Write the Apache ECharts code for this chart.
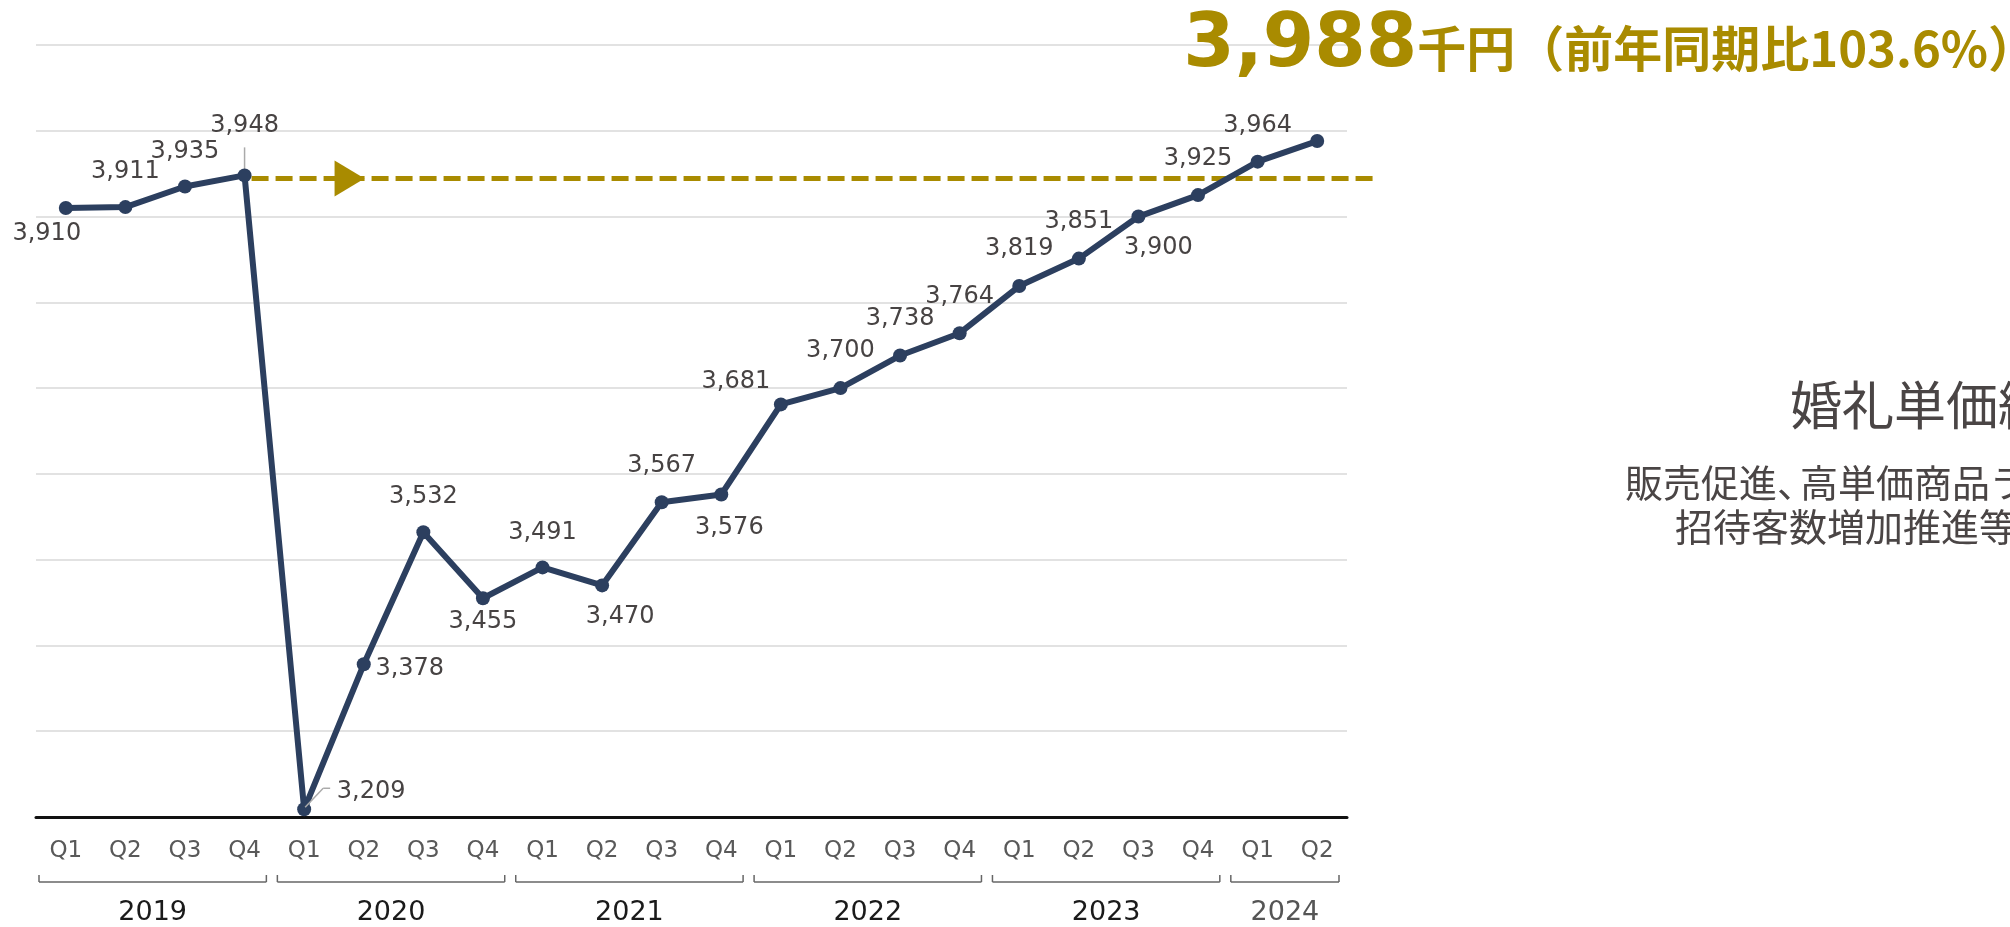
<!DOCTYPE html>
<html><head><meta charset="utf-8">
<script src="https://cdn.jsdelivr.net/npm/echarts@6/dist/echarts.min.js"></script>
<style>html,body{margin:0;padding:0;background:#fff;overflow:hidden}#c{width:2010px;height:927px}</style>
</head><body><div id="c"></div>
<script>
// ---- data ----
const quarters = ['Q1','Q2','Q3','Q4','Q1','Q2','Q3','Q4','Q1','Q2','Q3','Q4','Q1','Q2','Q3','Q4','Q1','Q2','Q3','Q4','Q1','Q2'];
const years = ['2019','2020','2021','2022','2023','2024'];
const quartersPerYear = [4,4,4,4,4,2];
const unitPrice = [3910,3911,3935,3948,3209,3378,3532,3455,3491,3470,3567,3576,3681,3700,3738,3764,3819,3851,3900,3925,3964,3988];
const yMin = 3200, yMax = 4100, yInterval = 100;
const referenceIndex = 3;          // 2019 Q4
const referenceValue = 3948;
const headlineValue = '3,988';
const headlineUnit = '千円（前年同期比103.6%）';
const sideTitle = '婚礼単価維持・向上';
const sideLine1a = '販売促進、';
const sideLine1b = '高単価商品ラインナップ強化';
const sideLine2 = '招待客数増加推進等により';

// ---- label placement (style) ----
const labelOffsets = [[-19,26],[0,-35],[0,-35],[0,-50],[67,-18],[46,4],[0,-35],[0,23],[0,-35],[18,31],[0,-36],[8,33],[-45,-23],[0,-37],[0,-37],[0,-36],[0,-37],[0,-37],[20,31],[0,-36],[0,-36],null];

const NAVY = '#2c3f5f', GOLD = '#a98b00', LABEL = '#474343';
const chart = echarts.init(document.getElementById('c'), null, {renderer:'canvas'});

const seriesData = unitPrice.map((v,i) => {
  const off = labelOffsets[i];
  return off ? {value:v, label:{show:true, position:'inside', offset:off}} : {value:v, label:{show:false}};
});

chart.setOption({
  animation:false,
  backgroundColor:'#fff',
  grid:{left:36, right:663, top:45, bottom:110, containLabel:false},
  xAxis:{
    type:'category', data:quarters, boundaryGap:true,
    axisLine:{show:true, lineStyle:{color:'#111', width:3}},
    axisTick:{show:false},
    axisLabel:{color:'#595959', fontSize:23, fontFamily:'DejaVu Sans', margin:23, interval:0},
    splitLine:{show:false}
  },
  yAxis:{
    type:'value', min:yMin, max:yMax, interval:yInterval,
    axisLine:{show:false}, axisTick:{show:false}, axisLabel:{show:false},
    splitLine:{show:true, lineStyle:{color:'#d9d9d9', width:1.5}}
  },
  series:[{
    type:'line', data:seriesData, z:5,
    symbol:'circle', symbolSize:14,
    lineStyle:{color:NAVY, width:6},
    itemStyle:{color:NAVY},
    label:{color:LABEL, fontSize:24, fontFamily:'DejaVu Sans', formatter:p => p.value.toLocaleString('en-US')}
  }]
});

// ---- overlay graphics positioned through the chart's own scales ----
const px = (i, v) => chart.convertToPixel({gridIndex:0}, [i, v]);
const band = px(2, yMin)[0] - px(1, yMin)[0];
const cx = i => px(1, yMin)[0] + (i - 1) * band;
const axisY = px(1, yMin)[1];
const gridRight = cx(quarters.length - 1) + band / 2;
const g = [];

// year brackets
let start = 0;
const bStyle = {stroke:'#666', lineWidth:1.5};
years.forEach((yr, k) => {
  const end = start + quartersPerYear[k] - 1;
  const xL = cx(start) - band/2 + 3;
  const xR = cx(end) + band/2 - 8;
  const by = axisY + 65;
  g.push({type:'line', shape:{x1:xL, y1:by, x2:xR, y2:by}, style:bStyle});
  g.push({type:'line', shape:{x1:xL, y1:by-7, x2:xL, y2:by}, style:bStyle});
  g.push({type:'line', shape:{x1:xR, y1:by-7, x2:xR, y2:by}, style:bStyle});
  g.push({type:'text', x:(xL+xR)/2, y:axisY + 96, style:{text:yr, fill: k === years.length-1 ? '#555' : '#1a1a1a',
    font:'27px "DejaVu Sans"', align:'center', verticalAlign:'middle'}});
  start = end + 1;
});

// dashed reference line and arrow
const ref = px(referenceIndex, referenceValue);
const refPt = px(referenceIndex, unitPrice[referenceIndex]);
g.push({type:'line', z:1, shape:{x1:ref[0]+7, y1:ref[1]+3, x2:gridRight+26, y2:ref[1]+3},
  style:{stroke:GOLD, lineWidth:5, lineDash:[17,7]}});
g.push({type:'polygon', z:1, shape:{points:[[ref[0]+90, ref[1]-15],[ref[0]+120, ref[1]+3],[ref[0]+90, ref[1]+21]]},
  style:{fill:GOLD}});

// leader lines
const leader = {stroke:'#aaa', lineWidth:1.5};
g.push({type:'line', z:3, shape:{x1:refPt[0], y1:refPt[1]-2, x2:refPt[0], y2:refPt[1]-28}, style:leader});
const low = px(4, unitPrice[4]);
g.push({type:'line', z:6, shape:{x1:low[0]+1, y1:low[1]-2, x2:low[0]+19, y2:low[1]-21}, style:leader});
g.push({type:'line', z:6, shape:{x1:low[0]+19, y1:low[1]-21, x2:low[0]+26, y2:low[1]-21}, style:leader});

// headline
g.push({type:'text', x:2037, y:84, style:{
  text:'{a|' + headlineValue + '}{b|' + headlineUnit + '}', align:'right', verticalAlign:'bottom',
  rich:{
    a:{fontSize:74, fontWeight:'bold', fontFamily:'DejaVu Sans', fill:GOLD, lineHeight:74, verticalAlign:'bottom'},
    b:{fontSize:49, fontWeight:'bold', fontFamily:'"Noto Sans CJK JP"', fill:GOLD, lineHeight:49, verticalAlign:'bottom', padding:[0,0,11,0]}
  }}});

// side text
const sideFont = '"Noto Sans CJK JP"';
g.push({type:'text', x:1790, y:405, style:{text:sideTitle, font:'52px ' + sideFont, fill:'#4a4545', align:'left', verticalAlign:'middle'}});
g.push({type:'text', x:1625, y:483, style:{text:sideLine1a, font:'38px ' + sideFont, fill:'#4a4545', align:'left', verticalAlign:'middle'}});
g.push({type:'text', x:1800, y:483, style:{text:sideLine1b, font:'38px ' + sideFont, fill:'#4a4545', align:'left', verticalAlign:'middle'}});
g.push({type:'text', x:1675, y:527, style:{text:sideLine2, font:'38px ' + sideFont, fill:'#4a4545', align:'left', verticalAlign:'middle'}});

chart.setOption({graphic:{elements:g}});
</script></body></html>
